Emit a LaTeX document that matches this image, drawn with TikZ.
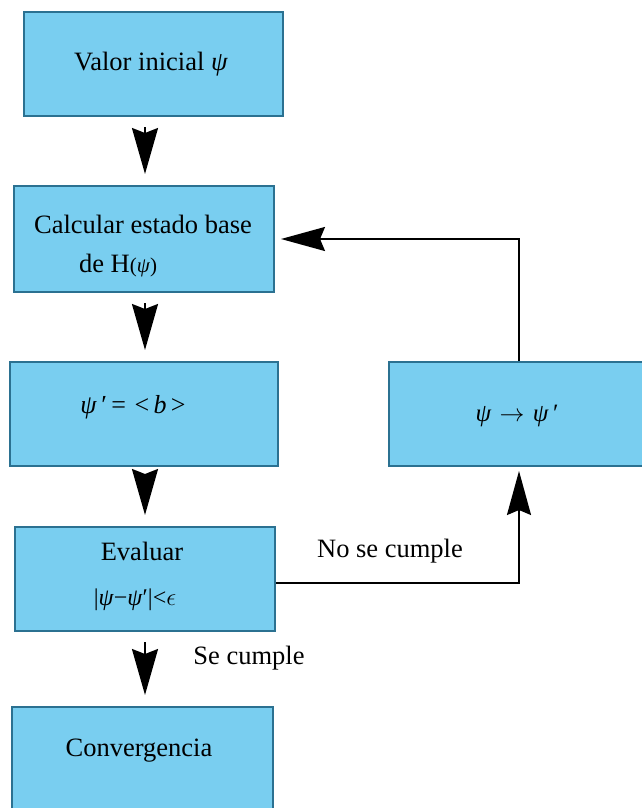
\documentclass[tikz,border=0pt]{standalone}
\usepackage{fontspec}
\setmainfont{Liberation Serif}
\usetikzlibrary{arrows.meta,calc}
\definecolor{boxfill}{HTML}{79CEF0}
\definecolor{boxdraw}{HTML}{2B7191}
\begin{document}
\begin{tikzpicture}[x=1pt,y=-1pt,
  box/.style={rectangle, draw=boxdraw, fill=boxfill, line width=2pt, inner sep=0pt},
  txt/.style={inner sep=0pt, font=\fontsize{26.5}{39}\selectfont},
  downarr/.style={draw, line width=2pt, -{Stealth[length=46pt,width=26pt,inset=5pt]}, shorten <=10pt, shorten >=11pt},
  conn/.style={draw, line width=2pt, -{Stealth[length=44pt,width=24pt,inset=5pt]}}
]
\useasboundingbox (0,0) rectangle (641,808);
\fill[white] (0,0) rectangle (641,808);

% boxes
\node[box, minimum width=259pt, minimum height=104pt] (b1) at (153.5,64) {};
\node[box, minimum width=260pt, minimum height=106pt] (b2) at (144,239) {};
\node[box, minimum width=268pt, minimum height=104pt] (b3) at (144,414) {};
\node[box, minimum width=261pt, minimum height=104pt] (b4) at (519.5,414) {};
\node[box, minimum width=260pt, minimum height=104pt] (b5) at (145,579) {};
\node[box, minimum width=261pt, minimum height=116pt] (b6) at (142.5,765) {};

% texts
\node[txt] (t1) at (151,64) {Valor inicial \textit{ψ}};
\node[txt, align=left] (t2) at (143,246) {Calcular estado base\\\hspace*{45pt}de H{\fontsize{21}{21}\selectfont(\textit{ψ})}};
\node[txt, font=\fontsize{26}{26}\selectfont] (t3) at (133,407) {\textit{ψ}\,′\,=\,\,<\,\textit{b}\,>};
\node[txt, font=\fontsize{25}{25}\selectfont] (t4) at (517,416) {\textit{ψ}\,\,$\rightarrow$\,\,\textit{ψ}\,′};
\node[txt] (t5a) at (142,551) {Evaluar};
\node[txt, font=\fontsize{24}{24}\selectfont] (t5b) at (135,600) {|\textit{ψ}−\textit{ψ}′|<$\epsilon$};
\node[txt] (t6) at (139,751) {Convergencia};
\node[txt] (lno) at (390,551) {No se cumple};
\node[txt] (lsi) at (249,658) {Se cumple};

% connectors
\coordinate (col) at (145,0);
\coordinate (fx) at (519,0);
\draw[downarr] (b1.south -| col) -- (b2.north -| col);
\draw[downarr] (b2.south -| col) -- (b3.north -| col);
\draw[downarr] (b3.south -| col) -- (b5.north -| col);
\draw[downarr] (b5.south -| col) -- (b6.north -| col);
\draw[conn, shorten >=6pt] (b4.north -| fx) |- (b2.east);
\draw[conn, shorten >=4pt] ($(b5.east)+(0,4)$) -| (b4.south -| fx);
\end{tikzpicture}
\end{document}
